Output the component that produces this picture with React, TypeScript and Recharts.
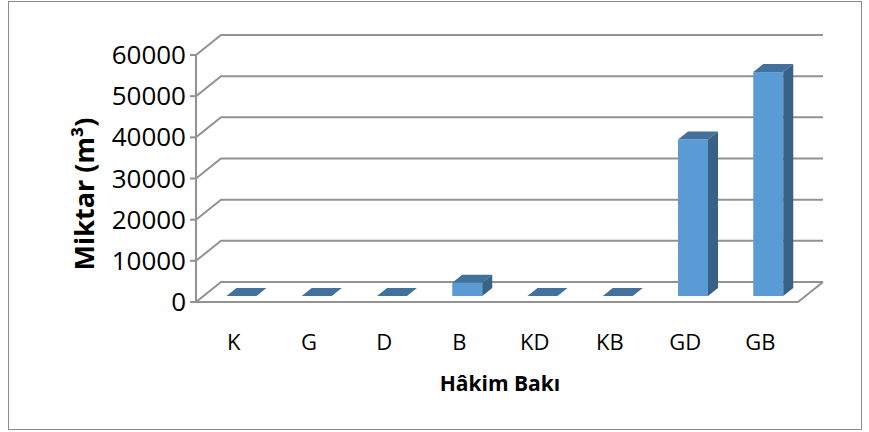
import React from 'react';
import { BarChart, Bar, XAxis, YAxis, CartesianGrid } from 'recharts';

const categories: string[] = ['K', 'G', 'D', 'B', 'KD', 'KB', 'GD', 'GB'];
const miktar: number[] = [0, 0, 0, 3200, 0, 0, 38000, 54400];
const yTicks: number[] = [0, 10000, 20000, 30000, 40000, 50000, 60000];

const data = categories.map((bak, i) => ({ bak, miktar: miktar[i] }));

// 3D look: back wall offset and bar depth
const WALL_DX = 25;
const WALL_DY = -20;
const BAR_SHIFT_X = 7.5;
const BAR_SHIFT_Y = -6;
const BAR_DX = 10;
const BAR_DY = -8;

const FONT = '"Open Sans", Calibri, sans-serif';
const GRID = '#929292';

const Bar3D = (props: any) => {
  const { x, y, width, height } = props;
  if (x == null || y == null) return null;
  const fx = x + BAR_SHIFT_X;
  const fy = y + BAR_SHIFT_Y;
  const h = Math.max(height || 0, 0);
  const w = width;
  return (
    <g>
      <rect x={fx} y={fy} width={w} height={h} fill="#5b9bd5" />
      <polygon
        points={`${fx},${fy} ${fx + w},${fy} ${fx + w + BAR_DX},${fy + BAR_DY} ${fx + BAR_DX},${fy + BAR_DY}`}
        fill="#41719c"
      />
      <polygon
        points={`${fx + w},${fy} ${fx + w + BAR_DX},${fy + BAR_DY} ${fx + w + BAR_DX},${fy + h + BAR_DY} ${fx + w},${fy + h}`}
        fill="#386186"
      />
    </g>
  );
};

const GridLine = (props: any) => {
  const { x1, y1, x2, index } = props;
  const bx = x1 + WALL_DX;
  const by = y1 + WALL_DY;
  const isFloor = Math.abs(y1 - 302) < 2 || index === 0;
  return (
    <g key={`g-${index}`}>
      <path d={`M${x1},${y1} L${bx},${by} L${x2 + WALL_DX},${by}`} stroke={GRID} strokeWidth={2} fill="none" />
      {isFloor && (
        <path d={`M${x1},${y1} L${x2},${y1} L${x2 + WALL_DX},${by}`} stroke={GRID} strokeWidth={2} fill="none" />
      )}
    </g>
  );
};

const XTick = (props: any) => {
  const { x, y, payload } = props;
  return (
    <text x={x} y={y + 40} textAnchor="middle" fontFamily={FONT} fontSize={22} fill="#000">
      {payload.value}
    </text>
  );
};

const YTick = (props: any) => {
  const { x, y, payload } = props;
  return (
    <text x={x - 2} y={y + 9} textAnchor="end" fontFamily={FONT} fontSize={26} fill="#000">
      {payload.value}
    </text>
  );
};

const XLabel = () => (
  <text x={500} y={391} textAnchor="middle" fontFamily={FONT} fontSize={21} fontWeight={700} fill="#000">
    Hâkim Bakı
  </text>
);

const YLabel = () => (
  <text
    x={94}
    y={194}
    transform="rotate(-90 94 194)"
    textAnchor="middle"
    fontFamily={FONT}
    fontSize={27}
    fontWeight={700}
    fill="#000"
  >
    Miktar (m³)
  </text>
);

export default function App() {
  return (
    <div style={{ position: 'absolute', left: 0, top: 0, width: 869, height: 432, background: '#fff' }}>
      <div
        style={{
          position: 'absolute',
          left: 8,
          top: 1,
          width: 852,
          height: 427,
          border: '1px solid #8a8a8a',
        }}
      />
      <div style={{ position: 'absolute', left: 0, top: 0 }}>
        <BarChart
          width={869}
          height={432}
          data={data}
          margin={{ top: 55, right: 71, left: 0, bottom: 90 }}
          barSize={30}
        >
          <CartesianGrid vertical={false} horizontal={GridLine as any} stroke={GRID} />
          <XAxis
            dataKey="bak"
            axisLine={false}
            tickLine={false}
            height={40}
            tick={XTick}
            interval={0}
            label={<XLabel />}
          />
          <YAxis
            width={196}
            domain={[0, 60000]}
            ticks={yTicks}
            interval={0}
            axisLine={{ stroke: GRID, strokeWidth: 2 }}
            tickLine={{ stroke: GRID, strokeWidth: 2 }}
            tickSize={6}
            tick={YTick}
            label={<YLabel />}
          />
          <Bar dataKey="miktar" shape={Bar3D} isAnimationActive={false} />
        </BarChart>
      </div>
    </div>
  );
}
